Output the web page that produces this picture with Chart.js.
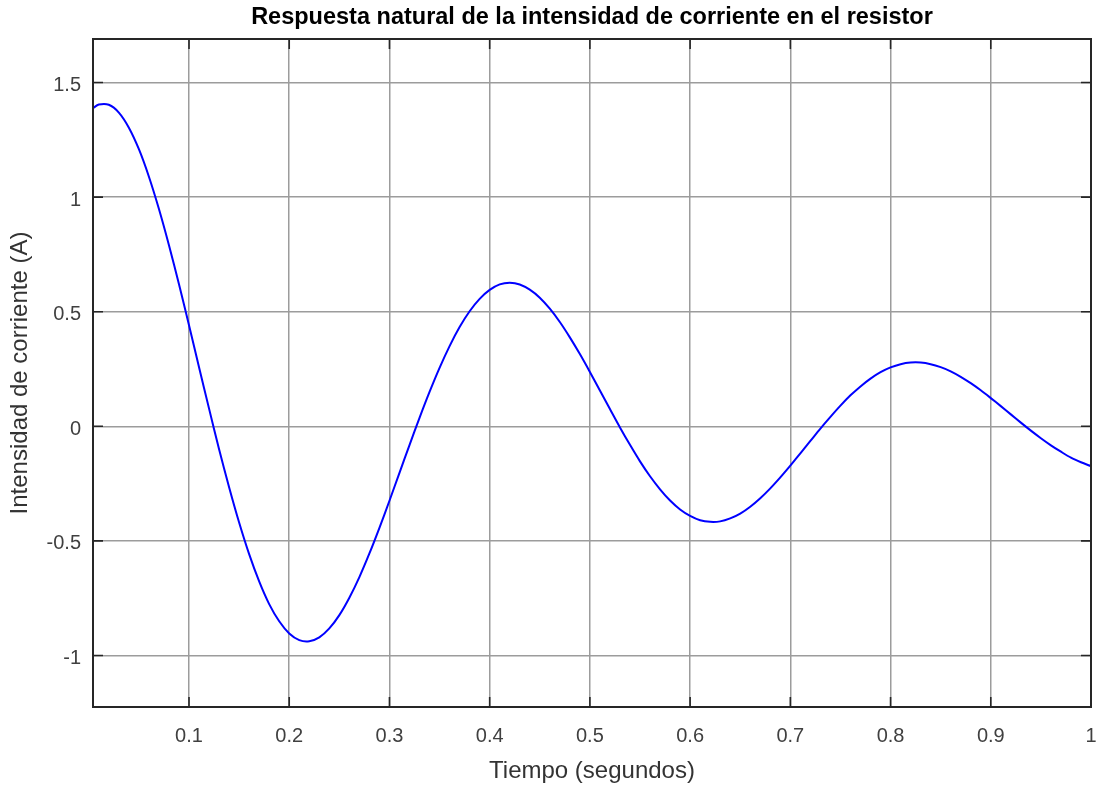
<!DOCTYPE html>
<html>
<head>
<meta charset="utf-8">
<script src="https://cdn.jsdelivr.net/npm/chart.js@4.4.1/dist/chart.umd.min.js"></script>
<style>
  html, body { margin: 0; padding: 0; background: #ffffff; }
  #wrap { width: 1101px; height: 786px; }
</style>
</head>
<body>
<div id="wrap"><canvas id="c" width="1101" height="786"></canvas></div>
<script>
// ---- data ----
const chartTitle = 'Respuesta natural de la intensidad de corriente en el resistor';
const xTitle = 'Tiempo (segundos)';
const yTitle = 'Intensidad de corriente (A)';

const xMin = 0.0042, xMax = 1.0;
const yMin = -1.225, yMax = 1.69;
const xTicks = [0.1, 0.2, 0.3, 0.4, 0.5, 0.6, 0.7, 0.8, 0.9, 1];
const yTicks = [-1, -0.5, 0, 0.5, 1, 1.5];

const times = [0.0042,
  0.01, 0.02, 0.03, 0.04, 0.05, 0.06, 0.07, 0.08, 0.09, 0.10,
  0.11, 0.12, 0.13, 0.14, 0.15, 0.16, 0.17, 0.18, 0.19, 0.20,
  0.21, 0.22, 0.23, 0.24, 0.25, 0.26, 0.27, 0.28, 0.29, 0.30,
  0.31, 0.32, 0.33, 0.34, 0.35, 0.36, 0.37, 0.38, 0.39, 0.40,
  0.41, 0.42, 0.43, 0.44, 0.45, 0.46, 0.47, 0.48, 0.49, 0.50,
  0.51, 0.52, 0.53, 0.54, 0.55, 0.56, 0.57, 0.58, 0.59, 0.60,
  0.61, 0.62, 0.63, 0.64, 0.65, 0.66, 0.67, 0.68, 0.69, 0.70,
  0.71, 0.72, 0.73, 0.74, 0.75, 0.76, 0.77, 0.78, 0.79, 0.80,
  0.81, 0.82, 0.83, 0.84, 0.85, 0.86, 0.87, 0.88, 0.89, 0.90,
  0.91, 0.92, 0.93, 0.94, 0.95, 0.96, 0.97, 0.98, 0.99, 1.00];

const current = [1.388,
  1.404, 1.403, 1.369, 1.303, 1.209, 1.089, 0.948, 0.790, 0.620, 0.441,
  0.258, 0.077, -0.100, -0.266, -0.420, -0.558, -0.677, -0.776, -0.851, -0.904,
  -0.933, -0.938, -0.921, -0.882, -0.824, -0.748, -0.658, -0.555, -0.443, -0.325,
  -0.203, -0.082, 0.037, 0.150, 0.255, 0.350, 0.433, 0.502, 0.556, 0.595,
  0.619, 0.626, 0.619, 0.596, 0.561, 0.513, 0.455, 0.388, 0.315, 0.237,
  0.156, 0.075, -0.005, -0.081, -0.153, -0.218, -0.275, -0.324, -0.363, -0.391,
  -0.410, -0.417, -0.415, -0.402, -0.381, -0.351, -0.314, -0.271, -0.223, -0.172,
  -0.118, -0.064, -0.010, 0.041, 0.090, 0.135, 0.174, 0.208, 0.236, 0.257,
  0.271, 0.278, 0.278, 0.271, 0.258, 0.240, 0.216, 0.188, 0.157, 0.123,
  0.088, 0.052, 0.016, -0.019, -0.052, -0.083, -0.111, -0.137, -0.157, -0.174];

// ---- styles ----
const FONT = 'Liberation Sans, Arial, Helvetica, sans-serif';
const tickFont = { family: FONT, size: 20 };
const labelFont = { family: FONT, size: 24 };
const tickColor = '#404040';
const boxColor = '#262626';
const gridColor = '#9c9c9c';

const fmt = v => String(Math.round(v * 100) / 100);

const boxPlugin = {
  id: 'matlabBox',
  afterDatasetsDraw(chart) {
    const { ctx, chartArea: a, scales: { x, y } } = chart;
    ctx.save();
    ctx.strokeStyle = boxColor;
    ctx.lineWidth = 1.6;
    ctx.beginPath();
    xTicks.forEach(v => {
      const px = x.getPixelForValue(v);
      ctx.moveTo(px, a.bottom); ctx.lineTo(px, a.bottom - 10);
      ctx.moveTo(px, a.top); ctx.lineTo(px, a.top + 10);
    });
    yTicks.forEach(v => {
      const py = y.getPixelForValue(v);
      ctx.moveTo(a.left, py); ctx.lineTo(a.left + 10, py);
      ctx.moveTo(a.right, py); ctx.lineTo(a.right - 10, py);
    });
    ctx.stroke();
    ctx.lineWidth = 2;
    ctx.strokeRect(a.left, a.top, a.right - a.left, a.bottom - a.top);
    ctx.restore();
  }
};

new Chart(document.getElementById('c'), {
  type: 'line',
  data: {
    datasets: [{
      data: times.map((t, i) => ({ x: t, y: current[i] })),
      borderColor: '#0000ff',
      borderWidth: 2,
      pointRadius: 0,
      fill: false,
      tension: 0.3
    }]
  },
  options: {
    responsive: false,
    animation: false,
    devicePixelRatio: 1,
    layout: { padding: { left: 0, right: 10, top: 0, bottom: 0 } },
    plugins: {
      legend: { display: false },
      tooltip: { enabled: false },
      title: {
        display: true,
        fullSize: false,
        text: chartTitle,
        color: '#000000',
        font: { family: FONT, size: 23.5, weight: 'bold' },
        padding: { top: 3, bottom: 7.8 }
      }
    },
    scales: {
      x: {
        type: 'linear',
        min: xMin,
        max: xMax,
        afterBuildTicks: s => { s.ticks = xTicks.map(v => ({ value: v })); },
        afterFit: s => { s.height = 79; s.paddingLeft = 0; s.paddingRight = 0; },
        grid: { color: gridColor, lineWidth: 1.5, drawTicks: false },
        border: { display: false },
        ticks: { font: tickFont, color: tickColor, padding: 17, maxRotation: 0, autoSkip: false, callback: v => fmt(v) },
        title: { display: true, text: xTitle, font: labelFont, color: '#333333', padding: { top: 0, bottom: 0.6 } }
      },
      y: {
        type: 'linear',
        min: yMin,
        max: yMax,
        afterBuildTicks: s => { s.ticks = yTicks.map(v => ({ value: v })); },
        afterFit: s => { s.width = 93; s.paddingTop = 0; s.paddingBottom = 0; },
        grid: { color: gridColor, lineWidth: 1.5, drawTicks: false },
        border: { display: false },
        ticks: { font: tickFont, color: tickColor, padding: 12, labelOffset: 3, autoSkip: false, callback: v => fmt(v) },
        title: { display: true, text: yTitle, font: labelFont, color: '#333333', padding: { top: 5.6, bottom: 0 } }
      }
    }
  },
  plugins: [boxPlugin]
});
</script>
</body>
</html>
